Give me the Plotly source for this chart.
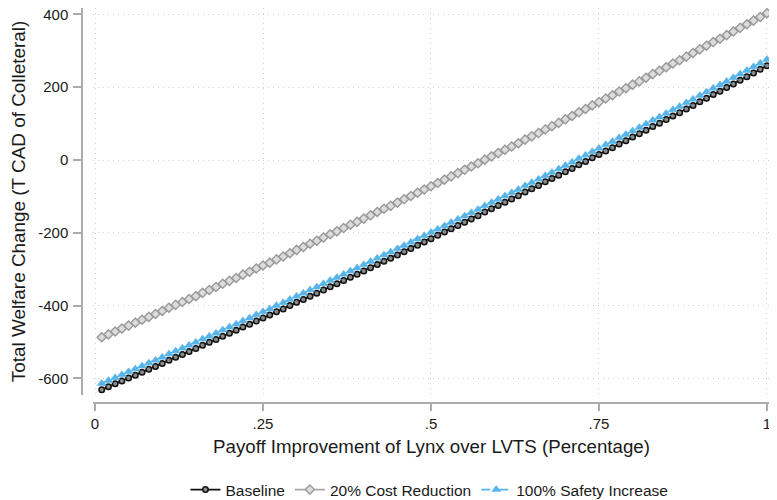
import plotly.graph_objects as go

payoff_improvement = [
    0.01, 0.02, 0.03, 0.04, 0.05, 0.06, 0.07, 0.08, 0.09, 0.10,
    0.11, 0.12, 0.13, 0.14, 0.15, 0.16, 0.17, 0.18, 0.19, 0.20,
    0.21, 0.22, 0.23, 0.24, 0.25, 0.26, 0.27, 0.28, 0.29, 0.30,
    0.31, 0.32, 0.33, 0.34, 0.35, 0.36, 0.37, 0.38, 0.39, 0.40,
    0.41, 0.42, 0.43, 0.44, 0.45, 0.46, 0.47, 0.48, 0.49, 0.50,
    0.51, 0.52, 0.53, 0.54, 0.55, 0.56, 0.57, 0.58, 0.59, 0.60,
    0.61, 0.62, 0.63, 0.64, 0.65, 0.66, 0.67, 0.68, 0.69, 0.70,
    0.71, 0.72, 0.73, 0.74, 0.75, 0.76, 0.77, 0.78, 0.79, 0.80,
    0.81, 0.82, 0.83, 0.84, 0.85, 0.86, 0.87, 0.88, 0.89, 0.90,
    0.91, 0.92, 0.93, 0.94, 0.95, 0.96, 0.97, 0.98, 0.99, 1.00,
]

baseline = [
    -631, -623, -615, -607, -599, -591, -583, -575, -567, -559,
    -550, -542, -534, -526, -518, -509, -501, -493, -484, -476,
    -468, -459, -451, -442, -434, -426, -417, -409, -400, -391,
    -383, -374, -366, -357, -348, -340, -331, -322, -314, -305,
    -296, -287, -278, -270, -261, -252, -243, -234, -225, -216,
    -207, -198, -189, -180, -171, -162, -153, -143, -134, -125,
    -116, -107, -98, -88, -79, -70, -60, -51, -42, -32,
    -23, -13, -4, 6, 15, 25, 34, 44, 53, 63,
    72, 82, 92, 101, 111, 121, 130, 140, 150, 160,
    170, 180, 189, 199, 209, 219, 229, 239, 249, 259,
]

cost_reduction_20 = [
    -487, -479, -471, -463, -455, -447, -439, -431, -423, -415,
    -406, -398, -390, -382, -374, -365, -357, -349, -340, -332,
    -324, -315, -307, -298, -290, -282, -273, -265, -256, -247,
    -239, -230, -222, -213, -204, -196, -187, -178, -170, -161,
    -152, -143, -134, -126, -117, -108, -99, -90, -81, -72,
    -63, -54, -45, -36, -27, -18, -9, 1, 10, 19,
    28, 37, 46, 56, 65, 74, 84, 93, 102, 112,
    121, 131, 140, 150, 159, 169, 178, 188, 197, 207,
    216, 226, 236, 245, 255, 265, 274, 284, 294, 304,
    314, 324, 333, 343, 353, 363, 373, 383, 393, 403,
]

safety_increase_100 = [
    -614, -606, -598, -590, -582, -574, -566, -558, -550, -542,
    -533, -525, -517, -509, -501, -492, -484, -476, -467, -459,
    -451, -442, -434, -425, -417, -409, -400, -392, -383, -374,
    -366, -357, -349, -340, -331, -323, -314, -305, -297, -288,
    -279, -270, -261, -253, -244, -235, -226, -217, -208, -199,
    -190, -181, -172, -163, -154, -145, -136, -126, -117, -108,
    -99, -90, -81, -71, -62, -53, -43, -34, -25, -15,
    -6, 4, 13, 23, 32, 42, 51, 61, 70, 80,
    89, 99, 109, 118, 128, 138, 147, 157, 167, 177,
    187, 197, 206, 216, 226, 236, 246, 256, 266, 276,
]

x_tick_vals = [0, 0.25, 0.5, 0.75, 1]
x_tick_text = ["0", ".25", ".5", ".75", "1"]
y_tick_vals = [-600, -400, -200, 0, 200, 400]
y_tick_text = ["-600", "-400", "-200", "0", "200", "400"]

FONT = "Liberation Sans, Arial, sans-serif"
TXT = "#1a1a1a"
AXIS = "#ababab"
GRID = "#cfcfcf"

fig = go.Figure()
fig.add_trace(go.Scatter(
    x=payoff_improvement, y=baseline, name="Baseline", mode="lines+markers",
    line=dict(color="#111111", width=1.6),
    marker=dict(symbol="circle", size=5.5, color="#8a8a8a", line=dict(color="#111111", width=1.5)),
    cliponaxis=False,
))
fig.add_trace(go.Scatter(
    x=payoff_improvement, y=cost_reduction_20, name="20% Cost Reduction", mode="lines+markers",
    line=dict(color="#a6a6a6", width=1.6),
    marker=dict(symbol="diamond", size=7, color="#dcdcdc", line=dict(color="#999999", width=1.4)),
    cliponaxis=False,
))
fig.add_trace(go.Scatter(
    x=payoff_improvement, y=safety_increase_100, name="100% Safety Increase", mode="lines+markers",
    line=dict(color="#56b4e9", width=1.6, dash="dash"),
    marker=dict(symbol="triangle-up", size=8, color="#56b4e9", line=dict(color="#56b4e9", width=0.5)),
    cliponaxis=False,
))

fig.update_layout(
    width=769, height=492,
    margin=dict(l=74, r=7, t=0, b=97, autoexpand=False),
    paper_bgcolor="white", plot_bgcolor="white",
    font=dict(family=FONT, color=TXT, size=15),
    showlegend=True,
    legend=dict(
        orientation="h", x=0.505, xanchor="center", y=-0.2203, yanchor="middle",
        font=dict(size=15.5, family=FONT, color=TXT), bgcolor="rgba(0,0,0,0)",
        itemwidth=30,
    ),
    xaxis=dict(
        domain=[0.016, 1], range=[-0.003, 1.0045], anchor="free", position=0,
        automargin=False,
        tickvals=x_tick_vals, ticktext=x_tick_text,
        showline=True, linecolor=AXIS, linewidth=1.5,
        ticks="outside", ticklen=7, tickcolor=AXIS, tickwidth=1.5,
        ticklabelstandoff=0, ticklabeloverflow="allow",
        showgrid=True, gridcolor=GRID, griddash="1px,4px", gridwidth=1,
        zeroline=False, tickfont=dict(size=15, family=FONT, color=TXT),
        title=dict(text="Payoff Improvement of Lynx over LVTS (Percentage)",
                   font=dict(size=18.7, family=FONT, color=TXT), standoff=8),
    ),
    yaxis=dict(
        domain=[0.02025, 1], range=[-645.6, 417.6], anchor="free", position=0,
        automargin=False,
        tickvals=y_tick_vals, ticktext=y_tick_text,
        showline=True, linecolor=AXIS, linewidth=1.5,
        ticks="outside", ticklen=8, tickcolor=AXIS, tickwidth=1.5,
        ticklabelstandoff=2, ticklabeloverflow="allow",
        showgrid=True, gridcolor=GRID, griddash="1px,4px", gridwidth=1,
        zeroline=False, tickfont=dict(size=15, family=FONT, color=TXT),
        title=dict(text="Total Welfare Change (T CAD of Colleteral)",
                   font=dict(size=18.9, family=FONT, color=TXT), standoff=8),
    ),
)

fig.write_html("out.html")
